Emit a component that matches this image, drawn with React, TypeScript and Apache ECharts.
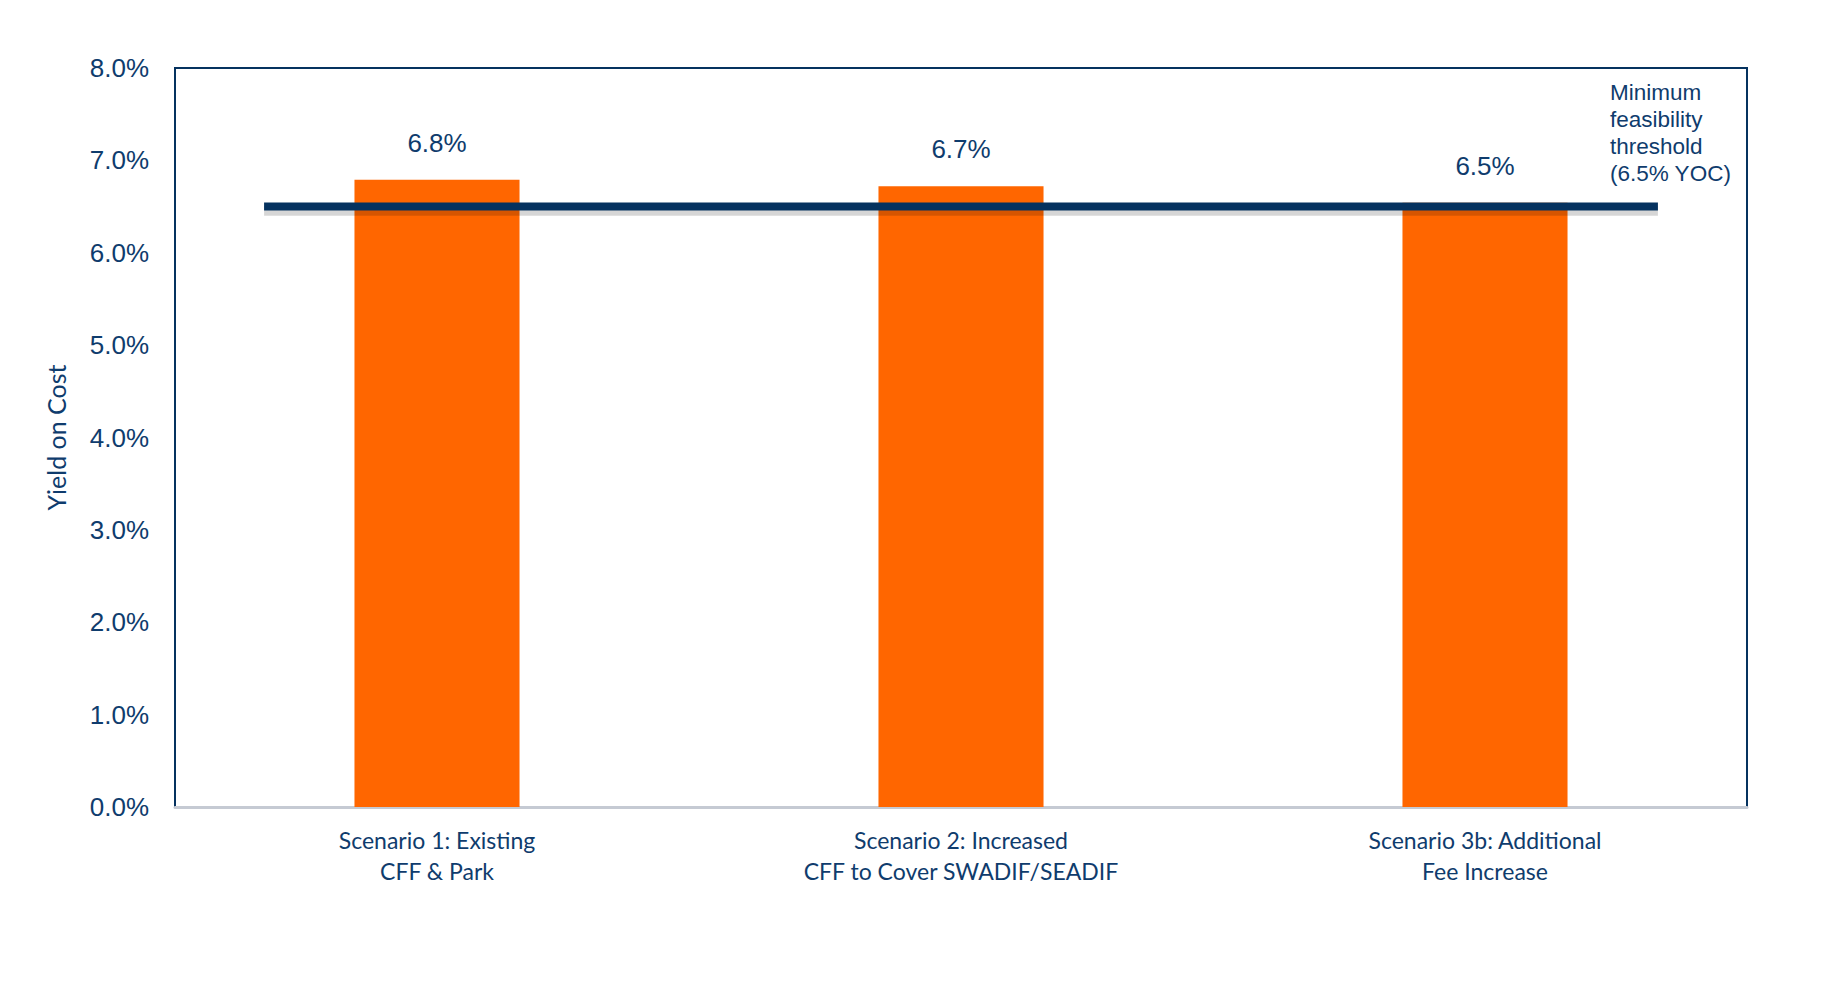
import React, { useEffect, useRef } from "react";
import * as echarts from "echarts";

const categories = [
  "Scenario 1: Existing\nCFF & Park",
  "Scenario 2: Increased\nCFF to Cover SWADIF/SEADIF",
  "Scenario 3b: Additional\nFee Increase",
];
const yieldValues = [6.79, 6.72, 6.54];
const yTicks = [0, 1, 2, 3, 4, 5, 6, 7, 8];
const thresholdValue = 6.5;
const thresholdSpan = [0.17, 2.83];
const thresholdText = "Minimum\nfeasibility\nthreshold\n(6.5% YOC)";

const NAVY = "#0f3c6d";
const LINE = "#05325f";

export default function App() {
  const ref = useRef<HTMLDivElement>(null);
  useEffect(() => {
    if (!ref.current) return;
    document.body.style.margin = "0";
    const chart = echarts.init(ref.current, null, { renderer: "svg" });
    chart.setOption({
      animation: false,
      backgroundColor: "#ffffff",
      grid: {
        left: 175,
        right: 79,
        top: 68,
        bottom: 196,
        show: true,
        borderColor: LINE,
        borderWidth: 2,
        backgroundColor: "transparent",
      },
      xAxis: [
        {
          type: "category",
          data: categories,
          axisLine: { show: true, lineStyle: { color: "#c5cad3", width: 3 } },
          axisTick: { show: false },
          axisLabel: {
            color: NAVY,
            fontFamily: "Lato",
            fontSize: 23,
            lineHeight: 31,
            margin: 17,
          },
        },
        {
          type: "value",
          min: 0,
          max: categories.length,
          show: false,
        },
      ],
      yAxis: {
        type: "value",
        min: yTicks[0],
        max: yTicks[yTicks.length - 1],
        interval: 1,
        name: "Yield on Cost",
        nameLocation: "middle",
        nameGap: 107,
        nameTextStyle: { color: NAVY, fontFamily: "Lato", fontSize: 25 },
        axisLine: { show: true, lineStyle: { color: LINE, width: 2 } },
        axisTick: { show: false },
        splitLine: { show: false },
        axisLabel: {
          color: NAVY,
          fontFamily: "Liberation Sans, Arial",
          fontSize: 26,
          margin: 26,
          formatter: (v: number) => v.toFixed(1) + "%",
        },
      },
      series: [
        {
          type: "bar",
          data: yieldValues,
          barWidth: "31.5%",
          itemStyle: { color: "#ff6600" },
          label: {
            show: true,
            position: "top",
            distance: 24,
            color: NAVY,
            fontFamily: "Liberation Sans, Arial",
            fontSize: 26,
            formatter: (p: any) => p.value.toFixed(1) + "%",
          },
          z: 2,
        },
        {
          type: "line",
          xAxisIndex: 1,
          data: [
            [thresholdSpan[0], thresholdValue - 0.045],
            [thresholdSpan[1], thresholdValue - 0.045],
          ],
          symbol: "none",
          silent: true,
          lineStyle: { color: "rgba(0,0,0,0.16)", width: 10 },
          z: 4,
        },
        {
          type: "line",
          xAxisIndex: 1,
          data: [
            [thresholdSpan[0], thresholdValue],
            [thresholdSpan[1], thresholdValue],
          ],
          symbol: "none",
          lineStyle: { color: LINE, width: 8 },
          z: 5,
        },
      ],
      graphic: [
        {
          type: "text",
          left: 1610,
          top: 79,
          style: {
            text: thresholdText,
            fill: NAVY,
            fontFamily: "Liberation Sans, Arial",
            fontSize: 22.5,
            lineHeight: 27,
          },
        },
      ],
    });
    return () => chart.dispose();
  }, []);
  return <div ref={ref} style={{ width: 1826, height: 1003 }} />;
}
